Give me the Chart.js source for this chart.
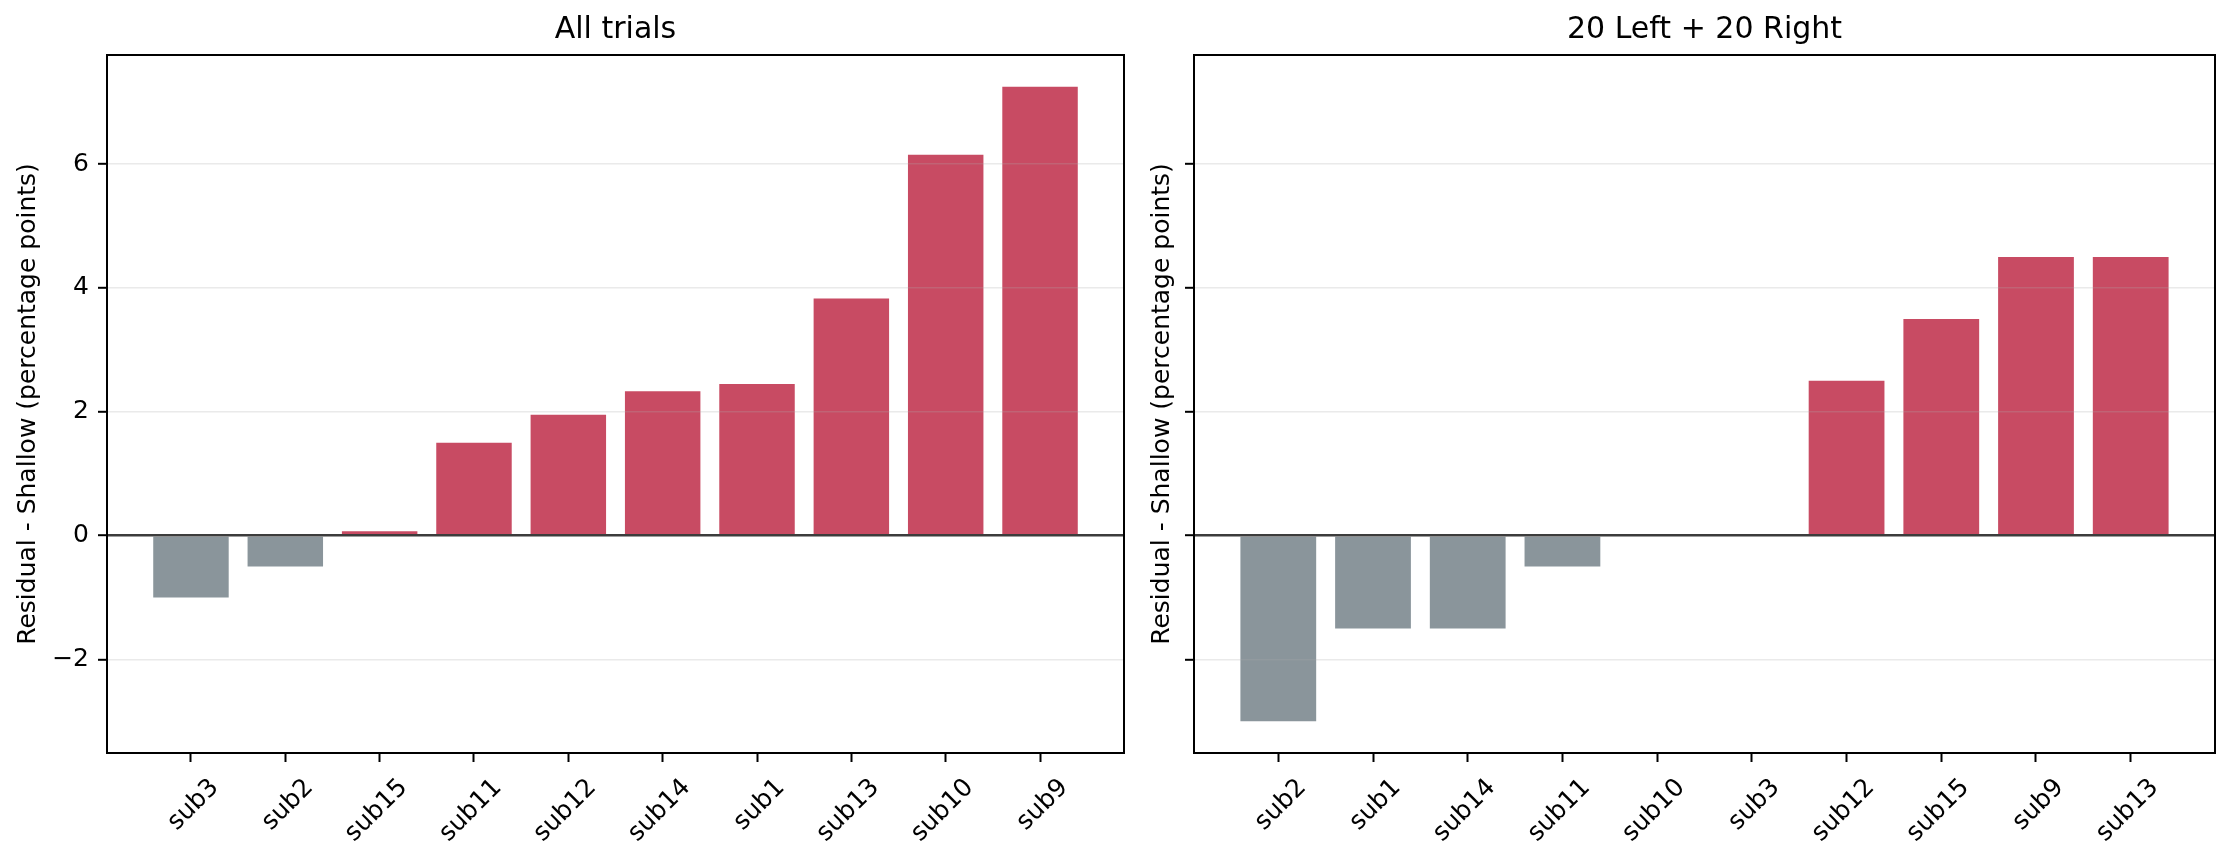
<!DOCTYPE html>
<html>
<head>
<meta charset="utf-8">
<script src="https://cdn.jsdelivr.net/npm/chart.js@4.4.0/dist/chart.umd.min.js"></script>
<style>
  body { margin: 0; background: #fff; }
  #wrap { position: relative; width: 2231px; height: 861px; }
  .panel { position: absolute; top: 0; }
</style>
</head>
<body>
<div id="wrap">
  <canvas id="left" class="panel" style="left:0" width="1140" height="861"></canvas>
  <canvas id="right" class="panel" style="left:1140px" width="1091" height="861"></canvas>
</div>
<script>
// data
const allLabels = ["sub3", "sub2", "sub15", "sub11", "sub12", "sub14", "sub1", "sub13", "sub10", "sub9"];
const allValues = [-1.0, -0.5, 0.07, 1.5, 1.95, 2.33, 2.45, 3.83, 6.15, 7.25];
const lrLabels = ["sub2", "sub1", "sub14", "sub11", "sub10", "sub3", "sub12", "sub15", "sub9", "sub13"];
const lrValues = [-3.0, -1.5, -1.5, -0.5, 0, 0, 2.5, 3.5, 4.5, 4.5];
const yTicks = [-2, 0, 2, 4, 6];

const red = "#c84b63";
const gray = "#8a959b";

Chart.defaults.font.family = "'DejaVu Sans', sans-serif";
Chart.defaults.color = "#000";

// shared y limits, matplotlib style 5% margin
const everything = allValues.concat(lrValues);
const lo = Math.min(...everything), hi = Math.max(...everything);
const yMin = lo - 0.05 * (hi - lo);
const yMax = hi + 0.05 * (hi - lo);

const frame = {
  id: "frame",
  afterDraw(chart) {
    const { ctx, chartArea: a } = chart;
    ctx.save();
    ctx.strokeStyle = "#000";
    ctx.lineWidth = 2;
    ctx.strokeRect(a.left, a.top, a.right - a.left, a.bottom - a.top);
    ctx.restore();
  }
};

function makeChart(id, labels, values, title, yWidth, padRight, yTitlePad, showYLabels) {
  const n = labels.length;
  const xPad = 0.05 * (n - 1 + 0.8);
  return new Chart(document.getElementById(id), {
    type: "bar",
    data: {
      datasets: [{
        data: values.map((v, i) => ({ x: i, y: v })),
        backgroundColor: (c) => (c.raw && c.raw.y < 0 ? gray : red),
        barPercentage: 0.8,
        categoryPercentage: 1.0
      }]
    },
    options: {
      responsive: false,
      animation: false,
      layout: { padding: { left: 0, right: padRight, top: 0, bottom: 0 } },
      plugins: {
        legend: { display: false },
        tooltip: { enabled: false },
        title: {
          display: true,
          text: title,
          fullSize: false,
          color: "#000",
          font: { size: 30, weight: "normal" },
          padding: { top: 12, bottom: 7 }
        }
      },
      scales: {
        x: {
          type: "linear",
          offset: false,
          min: -0.4 - xPad,
          max: n - 1 + 0.4 + xPad,
          afterBuildTicks: (s) => { s.ticks = labels.map((_, i) => ({ value: i })); },
          afterFit: (s) => { s.height = 108; },
          border: { display: false },
          grid: {
            offset: false,
            drawOnChartArea: false,
            drawTicks: true,
            tickLength: 9,
            tickColor: "#000",
            tickWidth: 2
          },
          ticks: {
            autoSkip: false,
            minRotation: 45,
            maxRotation: 45,
            labelOffset: 24,
            padding: 11,
            font: { size: 25 },
            callback: (v) => labels[Math.round(v)]
          }
        },
        y: {
          min: yMin,
          max: yMax,
          afterBuildTicks: (s) => { s.ticks = yTicks.map((v) => ({ value: v })); },
          afterFit: (s) => { s.width = yWidth; },
          border: { display: false },
          grid: {
            z: 1,
            color: (c) => (c.tick && c.tick.value === 0 ? "#3c3c3c" : "rgba(170,170,170,0.25)"),
            lineWidth: (c) => (c.tick && c.tick.value === 0 ? 2.4 : 1.6),
            tickLength: 9,
            tickColor: "#000",
            tickWidth: 2
          },
          ticks: {
            padding: 9,
            font: { size: 25 },
            callback: (v) => (showYLabels ? String(v).replace("-", "\u2212") : "")
          },
          title: {
            display: true,
            text: "Residual - Shallow (percentage points)",
            font: { size: 25 },
            padding: { top: yTitlePad, bottom: 0 }
          }
        }
      }
    },
    plugins: [frame]
  });
}

makeChart("left", allLabels, allValues, "All trials", 107, 16, 13, true);
makeChart("right", lrLabels, lrValues, "20 Left + 20 Right", 54, 16, 7, false);
</script>
</body>
</html>
